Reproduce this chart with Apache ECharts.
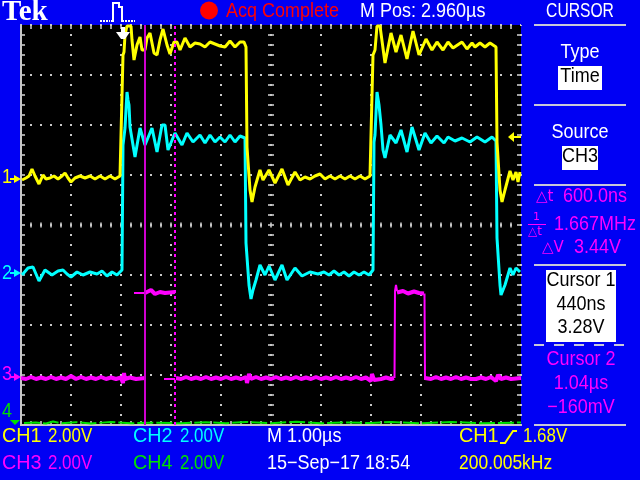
<!DOCTYPE html>
<html><head><meta charset="utf-8">
<style>html,body{margin:0;padding:0;background:#0000f4}#c{width:640px;height:480px}</style>
<script src="https://cdn.jsdelivr.net/npm/echarts@6/dist/echarts.min.js"></script>
</head><body><div id="c"></div>
<script>
// time in ns from the left graticule edge, level in mV above the bottom edge
const ch1Trace=[[20,9800],[100,9880],[160,9960],[220,10240],[280,9960],[360,9640],[440,10000],[500,9840],[580,9880],[660,9960],[740,9840],[820,9960],[880,10080],[940,9880],[1000,9720],[1080,9880],[1180,9960],[1280,9880],[1380,9960],[1480,9840],[1580,9960],[1680,9840],[1780,9960],[1880,9840],[1980,9960],[2020,9960],[2040,14800],[2060,14920],[2080,15600],[2120,15960],[2200,15960],[2220,15400],[2260,14600],[2280,14520],[2320,15200],[2380,15520],[2420,15000],[2480,15000],[2520,15480],[2580,15680],[2660,14880],[2720,14800],[2780,15400],[2840,15840],[2920,15200],[2980,14840],[3060,15320],[3120,15320],[3180,15000],[3280,15480],[3380,15120],[3480,15280],[3580,15240],[3680,15120],[3780,15320],[3880,15240],[3980,15160],[4080,15120],[4180,15360],[4280,15120],[4380,15320],[4460,15320],[4500,15120],[4520,11120],[4560,11120],[4580,9400],[4620,8920],[4680,9520],[4780,10200],[4840,9800],[4960,10200],[5080,9680],[5220,10240],[5340,9600],[5480,10120],[5580,9800],[5680,9920],[5780,9840],[5880,9960],[5980,10040],[6080,9840],[6180,9960],[6280,9840],[6380,9960],[6480,9840],[6580,9960],[6680,9840],[6780,9960],[6880,9840],[6980,9960],[7020,9960],[7040,14800],[7080,15000],[7120,15960],[7180,15960],[7280,14480],[7400,15680],[7500,14920],[7600,15600],[7720,14640],[7840,15760],[7960,14800],[8100,15440],[8220,15000],[8320,15320],[8440,15000],[8540,15320],[8640,15080],[8820,15320],[8920,15040],[9020,15280],[9080,15120],[9180,15280],[9280,15120],[9380,15280],[9500,15120],[9520,11320],[9560,11320],[9580,9400],[9620,8920],[9680,9400],[9780,10160],[9840,9800],[9900,10120],[9940,9720],[9980,10120]];
const ch2Trace=[[20,6000],[140,6280],[240,6320],[360,5760],[480,6200],[620,6000],[740,6160],[840,6200],[920,6040],[1000,5920],[1120,6120],[1240,6000],[1380,6120],[1520,6040],[1620,6160],[1720,5960],[1820,6120],[1920,6000],[2020,6200],[2040,11200],[2080,11880],[2100,11880],[2120,13320],[2140,13000],[2160,12800],[2180,11920],[2280,10720],[2380,11880],[2480,11200],[2620,11880],[2720,10920],[2820,12000],[2880,12000],[2940,11000],[3080,11680],[3220,11200],[3320,11680],[3440,11320],[3580,11600],[3680,11280],[3780,11600],[3880,11320],[3980,11520],[4080,11320],[4180,11600],[4280,11320],[4380,11560],[4480,11480],[4500,7280],[4540,7280],[4560,5600],[4600,5040],[4640,5400],[4700,5800],[4780,6400],[4880,6000],[4960,6360],[5080,5800],[5220,6400],[5320,5800],[5480,6280],[5620,5960],[5780,6120],[5940,6040],[6060,6120],[6160,6000],[6260,6160],[6360,6000],[6460,6120],[6560,5960],[6660,6120],[6760,6000],[6860,6120],[6960,6000],[7040,6200],[7060,11320],[7080,11600],[7120,13320],[7160,12800],[7200,12000],[7240,11000],[7280,10680],[7380,11600],[7500,11280],[7600,11800],[7720,10920],[7820,11920],[7960,11000],[8080,11680],[8200,11280],[8320,11560],[8460,11280],[8540,11520],[8680,11360],[8820,11480],[8980,11320],[9120,11520],[9280,11320],[9420,11520],[9500,11360],[9520,7480],[9560,7480],[9580,5600],[9600,5200],[9680,5600],[9780,6280],[9840,6000],[9900,6280],[9980,6120]];
const ch3BaseA=[[0,1880],[100,1840],[200,1920],[300,1840],[400,1900],[500,1840],[600,1920],[700,1840],[800,1900],[900,1840],[1000,1960],[1100,1840],[1200,1920],[1300,1840],[1400,1900],[1500,1840],[1600,1920],[1700,1840],[1800,1900],[1900,1840],[2000,1900],[2040,1680],[2060,2080],[2080,1840],[2180,1900],[2300,1840],[2480,1880]];
const ch3High=[[2480,5280],[2500,5360],[2600,5400],[2680,5240],[2780,5320],[2880,5280],[3080,5320]];
const ch3HighThin=[[2260,5280],[2480,5280]];
const ch3Thin=[[2860,1840],[3080,1840]];
const ch3BaseB=[[3100,1880],[3200,1840],[3300,1920],[3400,1840],[3500,1900],[3600,1840],[3700,1920],[3800,1840],[3900,1900],[4000,1840],[4100,1920],[4200,1840],[4300,1900],[4400,1840],[4500,1920],[4520,1680],[4560,2040],[4600,1840],[4700,1920],[4800,1840],[4900,1900],[5000,1840],[5100,1920],[5200,1840],[5300,1900],[5400,1840],[5500,1920],[5600,1840],[5700,1900],[5800,1840],[5900,1920],[6000,1840],[6100,1900],[6200,1840],[6300,1920],[6400,1840],[6500,1900],[6600,1840],[6700,1920],[6800,1840],[6900,1900],[7000,1760],[7020,2040],[7060,1800],[7100,1880],[7200,1840],[7300,1900],[7400,1840],[7460,1880]];
const ch3Pulse=[[7470,1880],[7480,5360],[7500,5600],[7520,5360]];
const ch3Plateau=[[7520,5300],[7640,5360],[7740,5260],[7860,5340],[7960,5280],[8060,5260]];
const ch3PulseFall=[[8070,5260],[8080,1800]];
const ch3BaseC=[[8080,1880],[8200,1840],[8300,1920],[8400,1840],[8500,1900],[8600,1840],[8700,1920],[8800,1840],[8900,1900],[9000,1840],[9100,1840],[9200,1900],[9300,1840],[9400,1920],[9500,1760],[9540,2000],[9600,1840],[9700,1900],[9800,1840],[10000,1880]];
const ch4Trace=[[60,80],[300,100],[500,60],[640,140],[800,70],[1100,110],[1400,60],[1800,120],[2200,70],[2600,90],[3200,70],[3700,110],[4100,70],[4500,120],[5000,70],[5500,130],[6000,70],[6500,100],[7000,80],[7400,120],[8000,70],[8600,120],[9200,70],[10000,100]];
const cursor1Time=[2480,2480], cursor2Time=[3080,3080], cursorSpan=[0,16000];
const majorX=10000, majorY=16000, stepX=200, stepY=400, centerX=5000, centerY=8000;

const M='#ff00ff',Y='#ffff00',C='#00ffff',G='#00e000',W='#ffffff',K='#000000',R='#ff0000',L='#c8c8c8',B='#0000f4';
const labels=[
 ['Acq Complete',226,12,R],['M Pos: 2.960\u00b5s',360,12,W],
 ['CURSOR',580,12,W,'center',0.87],['Type',580,53,W,'center'],['Time',580,77,K,'center'],
 ['Source',580,133,W,'center'],['CH3',580,157,K,'center'],
 ['600.0ns',563,197,M],['1.667MHz',554,225,M],['3.44V',574,248,M],
 ['Cursor 1',581,281,K,'center'],['440ns',581,305,K,'center'],['3.28V',581,328,K,'center'],
 ['Cursor 2',581,360,M,'center'],['1.04\u00b5s',581,384,M,'center'],['\u2212160mV',581,408,M,'center'],
 ['CH1',2,437,Y,'left',1.1],['2.00V',48,437,Y,'left',0.94],['CH2',133,437,C,'left',1.1],['2.00V',180,437,C,'left',0.94],['M 1.00\u00b5s',267,437,W],
 ['CH1',459,437,Y,'left',1.1],['1.68V',523,437,Y,'left',0.94],
 ['CH3',2,464,M,'left',1.1],['2.00V',48,464,M,'left',0.94],['CH4',133,464,G,'left',1.1],['2.00V',180,464,G,'left',0.94],
 ['15\u2212Sep\u221217 18:54',267,464,W],['200.005kHz',459,464,Y,'left',0.97],
 ['1',2,178,Y],['2',2,274,C],['3',2,375,M],['4',2,412,G]
];
const FONT='"Liberation Sans",sans-serif';
function txt(a){return {type:'text',z:50,x:a[1],y:a[2],scaleX:a[5]||1,scaleY:1.1,style:{text:a[0],x:0,y:0,fill:a[3],align:a[4]||'left',verticalAlign:'middle',font:'18px '+FONT}};}
function rule(x1,y,x2,dash){return {type:'line',z:40,shape:{x1,y1:y,x2,y2:y},style:{stroke:'#c8c8d8',lineWidth:2,lineDash:dash||null}};}
function box(x,y,w,h){return {type:'rect',z:45,shape:{x,y,width:w,height:h},style:{fill:W}};}
function arrowR(x,y,col){return {type:'polygon',z:50,shape:{points:[[x,y-4],[x+7,y],[x,y+4]]},style:{fill:col}};}
function dash(x,y,col){return {type:'rect',z:50,shape:{x,y,width:4,height:2},style:{fill:col}};}
const graphic=[
 {type:'text',z:50,style:{text:'Tek',x:2,y:13,fill:W,verticalAlign:'middle',font:'bold 29px "Liberation Serif",serif'}},
 {type:'polyline',z:50,shape:{points:[[111,21],[113,21],[113,3],[119,3],[119,7],[122,7],[122,21],[124,21]]},style:{stroke:W,fill:'none',lineWidth:2}},
 {type:'polyline',z:50,shape:{points:[[100,21],[110,21]]},style:{stroke:W,fill:'none',lineWidth:2,lineDash:[2,1]}},
 {type:'polyline',z:50,shape:{points:[[125,21],[135,21]]},style:{stroke:W,fill:'none',lineWidth:2,lineDash:[2,1]}},
 {type:'circle',z:50,shape:{cx:209,cy:10.5,r:9},style:{fill:R}},
 {type:'polygon',z:50,shape:{points:[[116,32],[130,32],[125,39],[121,39]]},style:{fill:W}},
 {type:'rect',z:50,shape:{x:121,y:27,width:4,height:6},style:{fill:W}},
 {type:'polygon',z:50,shape:{points:[[508,137],[514,132],[514,142]]},style:{fill:Y}},
 {type:'rect',z:50,shape:{x:514,y:136,width:7,height:2},style:{fill:Y}},
 rule(534,25,626),rule(534,105,626),rule(534,185,626),rule(534,265,626),rule(534,345,626,[10,10]),rule(534,425,626),
 box(558,66,44,24),box(562,146,36,24),box(546,270,70,72),
 {type:'text',z:50,style:{text:'\u25b3t',x:536,y:197,fill:M,verticalAlign:'middle',font:'15px "DejaVu Sans"'}},
 {type:'text',z:50,style:{text:'1',x:533,y:217,fill:M,verticalAlign:'middle',font:'11px "DejaVu Sans"'}},
 {type:'rect',z:50,shape:{x:528,y:224,width:18,height:1},style:{fill:M}},
 {type:'text',z:50,style:{text:'\u25b3t',x:528,y:232,fill:M,verticalAlign:'middle',font:'12px "DejaVu Sans"'}},
 {type:'text',z:50,style:{text:'\u25b3V',x:542,y:248,fill:M,verticalAlign:'middle',font:'15px "DejaVu Sans"'}},
 {type:'polyline',z:50,shape:{points:[[500,443],[505,443],[513,431],[517,431]]},style:{stroke:Y,fill:'none',lineWidth:2}},
 arrowR(14,179,Y),dash(10,178,Y),arrowR(14,273,C),dash(10,272,C),arrowR(14,377,M),dash(10,376,M),
 {type:'polygon',z:50,shape:{points:[[10,420],[20,420],[15,425]]},style:{fill:G}},
 ...labels.map(txt)
];
function line(data,color,width,extra){return {type:'line',data,symbol:'none',silent:true,animation:false,clip:true,lineStyle:Object.assign({color,width,join:'bevel'},extra||{})};}
const crossH=[],crossV=[],edgeB=[],edgeT=[],edgeL=[],edgeR=[];
for(let v=stepY;v<majorY;v+=stepY){crossH.push([centerX,v]);edgeL.push([0,v]);edgeR.push([majorX,v]);}
for(let t=stepX;t<majorX;t+=stepX){crossV.push([t,centerY]);edgeB.push([t,0]);edgeT.push([t,majorY]);}
const scatter=(data,size,offset)=>({type:'scatter',data,symbol:'rect',symbolSize:size,symbolOffset:offset||[0,0],silent:true,animation:false,clip:false,itemStyle:{color:L},z:1});
const axisBase=(extra)=>Object.assign({type:'value',axisLabel:{show:false},axisLine:{show:true,lineStyle:{color:L,width:2}},axisTick:{show:false},minorTick:{show:false}},extra);
const dots={show:true,lineStyle:{color:L,width:2,type:[2,8],dashOffset:1}};
const chart=echarts.init(document.getElementById('c'),null,{renderer:'canvas'});
chart.setOption({animation:false,backgroundColor:B,
 grid:{left:21,top:25,width:500,height:400,show:true,backgroundColor:K,borderWidth:0},
 xAxis:[axisBase({min:0,max:majorX,interval:1000,position:'bottom',splitLine:dots}),axisBase({min:0,max:majorX,interval:1000,position:'top',splitLine:{show:false}})],
 yAxis:[axisBase({min:0,max:majorY,interval:2000,position:'left',splitLine:dots}),axisBase({min:0,max:majorY,interval:2000,position:'right',splitLine:{show:false}})],
 graphic,
 series:[
  scatter(crossH,[6,2]),scatter(crossV,[2,5]),
  scatter(edgeL,[4,2],[2,0]),scatter(edgeR,[4,2],[-2,0]),scatter(edgeT,[2,4],[0,2]),scatter(edgeB,[2,4],[0,-2]),
  line(ch4Trace,G,2,{type:[16,3]}),
  line(ch2Trace,C,3),line(ch1Trace,Y,3),
  line(ch3BaseA,M,4),line(ch3High,M,4),line(ch3HighThin,M,2),line(ch3Thin,M,2),line(ch3BaseB,M,4),
  line(ch3Pulse,M,2),line(ch3Plateau,M,4),line(ch3PulseFall,M,2),line(ch3BaseC,M,4),
  line(cursor1Time.map((t,i)=>[t,cursorSpan[i]]),'#d000d0',2),
  line(cursor2Time.map((t,i)=>[t,cursorSpan[i]]),M,2,{type:[3,3]})
 ]});
</script></body></html>
